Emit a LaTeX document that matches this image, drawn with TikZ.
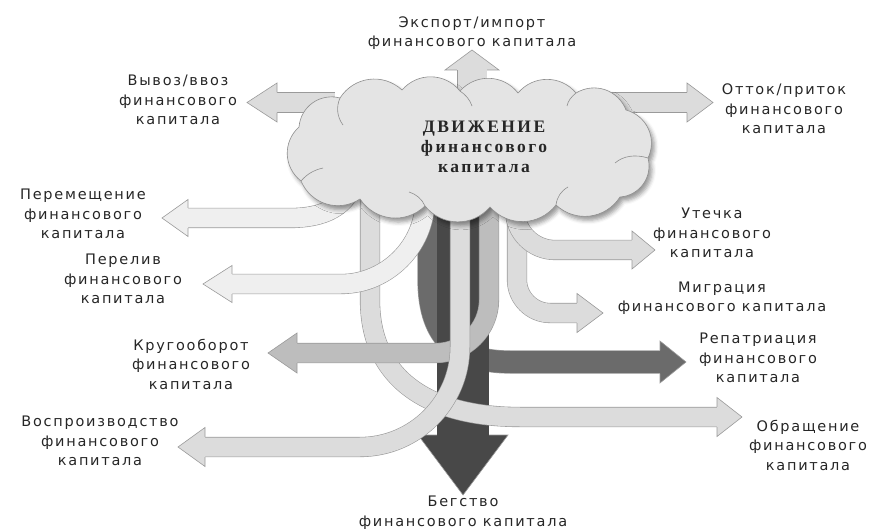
\documentclass[tikz,border=0pt]{standalone}
\usepackage{fontspec}
\newfontfamily\lblfont[LetterSpace=12]{DejaVu Sans}
\newfontfamily\ttlfont[LetterSpace=14]{Liberation Serif}
\usetikzlibrary{shadows.blur}

\definecolor{bandlight}{HTML}{DCDCDC}
\definecolor{bandpale}{HTML}{EFEFEF}
\definecolor{bandmid}{HTML}{BDBDBD}
\definecolor{banddark}{HTML}{6B6B6B}
\definecolor{bandblack}{HTML}{484848}
\definecolor{edgegray}{HTML}{9A9A9A}
\definecolor{cloudfill}{HTML}{E4E4E4}
\definecolor{cloudedge}{HTML}{8E8E8E}
\definecolor{inkgray}{HTML}{262626}

% horizontal arrow head: base x, centre y, direction (+1 right, -1 left),
% half body width, half head width, head length, fill colour
\newcommand{\headH}[7]{%
  \fill[#7] (#1,#2-#4) -- (#1,#2-#5) -- ({#1+(#3)*(#6)},#2) -- (#1,#2+#5) -- (#1,#2+#4) -- cycle;
  \draw[headedge] (#1,#2-#4) -- (#1,#2-#5) -- ({#1+(#3)*(#6)},#2) -- (#1,#2+#5) -- (#1,#2+#4);}
% vertical arrow head: centre x, base y, direction (+1 down, -1 up), ...
\newcommand{\headV}[7]{%
  \fill[#7] (#1-#4,#2) -- (#1-#5,#2) -- (#1,{#2+(#3)*(#6)}) -- (#1+#5,#2) -- (#1+#4,#2) -- cycle;
  \draw[headedge] (#1-#4,#2) -- (#1-#5,#2) -- (#1,{#2+(#3)*(#6)}) -- (#1+#5,#2) -- (#1+#4,#2);}

\tikzset{
  lbl/.style={font=\lblfont\fontsize{14.5}{19.5}\selectfont, text=inkgray,
    align=center, inner sep=0pt},
  ttl/.style={font=\ttlfont\bfseries\fontsize{17.5}{20}\selectfont, text=inkgray,
    align=center, inner sep=0pt},
  band/.style={draw=edgegray, line width=0.6pt, double=#1, double distance=19pt},
  headedge/.style={draw=edgegray, line width=0.6pt, line join=miter},
  lobe/.style={bend left=50, looseness=1.05},
  crease/.style={draw=cloudedge, line width=0.6pt},
}

\begin{document}
\begin{tikzpicture}[x=1pt, y=-1pt]
\useasboundingbox (0,0) rectangle (875,529);

% ---- flows leaving the top half of the cloud
\draw[band=bandlight] (335,102.5) -- (277,102.5);
\headH{277}{102.5}{-1}{10.1}{19.5}{30}{bandlight}
\draw[band=bandlight] (610,102.5) -- (687,102.5);
\headH{687}{102.5}{1}{10.1}{19.5}{26}{bandlight}
\draw[band=bandlight, double distance=29pt] (472,110) -- (472,70);
\headV{472}{70}{-1}{15.1}{27}{20}{bandlight}

% ---- repatriation (behind the main stem)
\draw[band=banddark, double distance=22pt] (429,200) -- (429,280)
  .. controls (429,340) and (460,362) .. (510,362) -- (660,362);
\headH{660}{362}{1}{11.6}{21}{26}{banddark}

% ---- flight of capital: the main downward stem
\draw[band=bandblack, double distance=51pt, draw=bandblack] (463,200) -- (463,435);
\headV{463}{435}{1}{26.1}{45}{60}{bandblack}

% ---- circulation
\draw[band=bandlight] (370,200) -- (370,300)
  .. controls (370,380) and (430,417) .. (520,417) -- (717,417);
\headH{717}{417}{1}{10.1}{19.5}{25}{bandlight}

% ---- turnover
\draw[band=bandmid] (489,200) -- (489,300)
  .. controls (489,329) and (465,353) .. (436,353) -- (297,353);
\headH{297}{353}{-1}{10.1}{20}{29}{bandmid}

% ---- reproduction
\draw[band=bandlight] (460,200) -- (460,347)
  .. controls (460,402) and (415,447) .. (360,447) -- (205,447);
\headH{205}{447}{-1}{10.1}{19.5}{27}{bandlight}

% ---- migration and leakage
\draw[band=bandlight] (517,200) -- (517,280)
  .. controls (517,298) and (532,313) .. (550,313) -- (577,313);
\headH{577}{313}{1}{10.1}{19.5}{26}{bandlight}
\draw[band=bandlight] (515,200) -- (515,210)
  .. controls (515,232) and (533,250) .. (555,250) -- (632,250);
\headH{632}{250}{1}{10.1}{19}{23}{bandlight}

% ---- overflow and relocation
\draw[band=bandpale] (425,195) -- (425,200)
  .. controls (425,246) and (387,284) .. (341,284) -- (232,284);
\headH{232}{284}{-1}{10.1}{18.5}{29}{bandpale}
\draw[band=bandpale] (356,175) .. controls (349,208) and (322,218) .. (290,218) -- (188,218);
\headH{188}{218}{-1}{10.1}{18.5}{26}{bandpale}

% ---- the cloud (drawn with y pointing up, so lobes bulge to the left of travel)
\begin{scope}[y=1pt]
\filldraw[draw=cloudedge, line width=0.6pt, fill=cloudfill,
          blur shadow={shadow xshift=3pt, shadow yshift=-4pt, shadow blur radius=4pt, shadow opacity=40}]
  (301,-181) to[lobe] (299,-127) to[lobe] (340,-98) to[lobe] (402,-90)
  to[lobe] (460,-91) to[lobe] (518,-93) to[lobe] (576,-93) to[lobe] (626,-110)
  to[lobe] (648,-158) to[lobe] (620,-197) to[lobe] (556,-205) to[lobe] (490,-207)
  to[lobe] (425,-206) to[lobe] (360,-199) to[lobe] (301,-181) -- cycle;
% inner creases where neighbouring lobes overlap
\draw[crease] (340,-98) .. controls (336,-107) and (337,-117) .. (343,-125);
\draw[crease] (460,-91) .. controls (466,-95) and (470,-100) .. (472,-106);
\draw[crease] (576,-93) .. controls (571,-97) and (568,-101) .. (567,-106);
\draw[crease] (648,-158) .. controls (635,-154) and (623,-156) .. (615,-163);
\draw[crease] (556,-205) .. controls (557,-197) and (561,-191) .. (568,-187);
\draw[crease] (425,-206) .. controls (422,-199) and (416,-194) .. (409,-192);
\draw[crease] (301,-181) .. controls (307,-174) and (314,-170) .. (323,-168);
\end{scope}
\node[ttl] (title) at (484,147) {ДВИЖЕНИЕ\\финансового\\капитала};

% ---- labels
\node[lbl] (export)  at (472,33)    {Экспорт/импорт\\финансового капитала};
\node[lbl] (vyvoz)   at (178,100)   {Вывоз/ввоз\\финансового\\капитала};
\node[lbl] (ottok)   at (784,109)   {Отток/приток\\финансового\\капитала};
\node[lbl] (peremes) at (83,214)    {Перемещение\\финансового\\капитала};
\node[lbl] (pereliv) at (123,279)   {Перелив\\финансового\\капитала};
\node[lbl] (krug)    at (191,364)   {Кругооборот\\финансового\\капитала};
\node[lbl] (vospr)   at (100,441)   {Воспроизводство\\финансового\\капитала};
\node[lbl] (begstvo) at (463,512.5) {Бегство\\финансового капитала};
\node[lbl] (utechka) at (712,233)   {Утечка\\финансового\\капитала};
\node[lbl] (migr)    at (722,298)   {Миграция\\финансового капитала};
\node[lbl] (repat)   at (758,358)   {Репатриация\\финансового\\капитала};
\node[lbl] (obrash)  at (808,445)   {Обращение\\финансового\\капитала};
\end{tikzpicture}
\end{document}
